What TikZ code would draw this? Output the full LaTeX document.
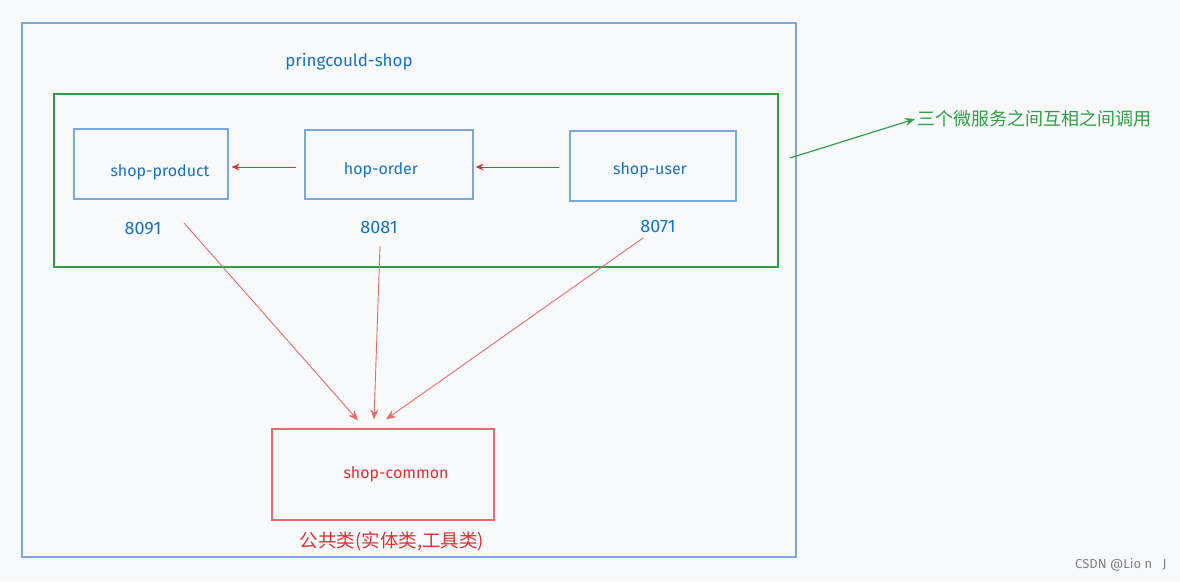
\documentclass[tikz,border=0pt]{standalone}
\usepackage{fontspec}
\setmainfont{Fira Sans}
\newfontfamily\cjk{Noto Sans CJK SC}
\usetikzlibrary{arrows.meta}
\definecolor{bg}{HTML}{F8F9FB}
\definecolor{bl}{HTML}{1971C2}
\definecolor{blbox}{HTML}{7BA7DB}
\definecolor{gr}{HTML}{2F9E44}
\definecolor{rd}{HTML}{E03131}
\definecolor{rdl}{HTML}{E86A6A}
\begin{document}
\begin{tikzpicture}[x=1pt,y=-1pt,
  svc/.style={draw=blbox,line width=1.2pt,inner sep=0pt},
  lbl/.style={text=bl,font=\fontsize{16}{18}\selectfont},
  port/.style={text=bl,font=\fontsize{18}{20}\selectfont},
  redarr/.style={draw=rd,line width=0.9pt,-{Stealth[length=8pt,width=7pt]}},
  redln/.style={draw=rdl,line width=0.9pt,-{Stealth[length=10pt,width=8pt]}}]
\fill[bg] (0,0) rectangle (1180,581);
\useasboundingbox (0,0) rectangle (1180,581);
% outer box
\node[draw=blbox,line width=1.2pt,minimum width=774pt,minimum height=534pt,inner sep=0pt] (outer) at (409,290) {};
\node[text=bl,font=\fontsize{17}{19}\selectfont] (title) at (349,62) {pringcould-shop};
% green box
\node[draw=gr,line width=2pt,minimum width=724pt,minimum height=173pt,inner sep=0pt] (grp) at (416,180.5) {};
% services
\node[svc,minimum width=154pt,minimum height=70pt] (product) at (151,164) {};
\node[lbl] (tproduct) at (160,172) {shop-product};
\node[svc,minimum width=168pt,minimum height=69pt] (order) at (389,164.5) {};
\node[lbl] (torder) at (381,170) {hop-order};
\node[svc,minimum width=166pt,minimum height=70pt] (user) at (653,166) {};
\node[lbl] (tuser) at (650,170) {shop-user};
% ports
\node[port] (p1) at (143,229) {8091};
\node[port] (p2) at (379,227) {8081};
\node[port] (p3) at (658,226) {8071};
% inter-service arrows
\draw[redarr,shorten <=8pt,shorten >=3pt] (order.west|-0,167) -- (product.east|-0,167);
\draw[redarr,shorten <=10pt,shorten >=2pt] (user.west|-0,167) -- (order.east|-0,167);
% common
\node[draw=rdl,line width=1.2pt,minimum width=222pt,minimum height=91pt,inner sep=0pt] (common) at (383,474.5) {};
\node[text=rd,font=\fontsize{16}{18}\selectfont] (tcommon) at (396,474) {shop-common};
\node[text=rd,font=\cjk\fontsize{18.5}{20}\selectfont] (commonlbl) at (392,541) {公共类(实体类,工具类)};
% lines to common
\coordinate (s1) at (184,223);
\coordinate (s2) at (380,246);
\coordinate (s3) at (643,238);
\draw[redln] (s1) -- ([xshift=-25pt,yshift=8pt]common.north);
\draw[redln] (s2) -- ([xshift=-9pt,yshift=9pt]common.north);
\draw[redln] (s3) -- ([xshift=3pt,yshift=9pt]common.north);
% annotation
\node[text=gr,font=\cjk\fontsize{18}{20}\selectfont,anchor=west,inner sep=2pt] (note) at (915,119) {三个微服务之间互相之间调用};
\coordinate (g0) at (790,158);
\draw[draw=gr,line width=1.2pt,-{Stealth[length=10pt,width=8pt]}] (g0) -- (note.west);
% watermark
\node[text=gray,font=\fontsize{13}{15}\selectfont,anchor=east] (wm) at (1170,565) {CSDN @Lio n\ \ \ J};
\end{tikzpicture}
\end{document}
